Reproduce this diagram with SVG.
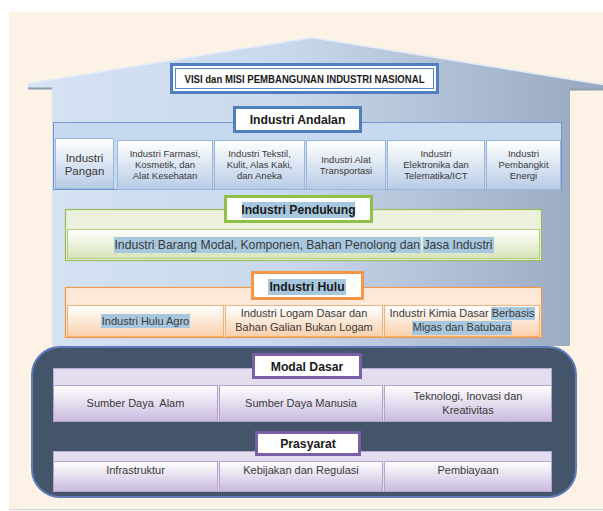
<svg xmlns="http://www.w3.org/2000/svg" width="603" height="511" viewBox="0 0 603 511">
<defs>
<linearGradient id="house" x1="0" y1="0" x2="1" y2="0">
<stop offset="0" stop-color="#d5e3f3"/>
<stop offset="0.45" stop-color="#c9d8ec"/>
<stop offset="1" stop-color="#97a7be"/>
</linearGradient>
<linearGradient id="gBlue" x1="0" y1="0" x2="0" y2="1">
<stop offset="0" stop-color="#ffffff"/>
<stop offset="1" stop-color="#b7cbe6"/>
</linearGradient>
<linearGradient id="gGreen" x1="0" y1="0" x2="0" y2="1">
<stop offset="0" stop-color="#ffffff"/>
<stop offset="1" stop-color="#d6e4b8"/>
</linearGradient>
<linearGradient id="gOrange" x1="0" y1="0" x2="0" y2="1">
<stop offset="0" stop-color="#ffffff"/>
<stop offset="1" stop-color="#fbd0ac"/>
</linearGradient>
<linearGradient id="gPurple" x1="0" y1="0" x2="0" y2="1">
<stop offset="0" stop-color="#ffffff"/>
<stop offset="1" stop-color="#c9bade"/>
</linearGradient>
</defs>
<style>
text{font-family:"Liberation Sans",Arial,sans-serif;fill:#3a3a3a;text-anchor:middle}
.ttl{font-weight:bold;font-size:12.2px;fill:#1a1a1a}
.c9{font-size:9.5px}
.c11{font-size:11px}
.hl{fill:#a7c7df}
.cb{stroke:#9db7da;stroke-width:1;fill:url(#gBlue)}
.cg{stroke:#b5cc86;stroke-width:1;fill:url(#gGreen)}
.co{stroke:#f3b07a;stroke-width:1;fill:url(#gOrange)}
.cp{stroke:#b6a3d0;stroke-width:1;fill:url(#gPurple)}
</style>
<rect x="0" y="0" width="603" height="511" fill="#ffffff"/>
<rect x="9" y="12" width="594" height="496" fill="#fdf2e6"/>
<line x1="9" y1="509.5" x2="603" y2="509.5" stroke="#d6d6d6" stroke-width="1.5"/>

<g id="house-shape">
<path d="M28,83 L312,37 L603,84 L603,90 L570,90 L570,346 L52,346 L52,89 L28,89 Z" fill="url(#house)"/>
<path d="M28,83.5 L312,37.5 L603,84.5" fill="none" stroke="#e6eef8" stroke-width="1.5"/>
<line x1="28" y1="88.5" x2="52" y2="88.5" stroke="#8d9db2" stroke-width="2"/>
<line x1="570" y1="89.5" x2="603" y2="89.5" stroke="#8d9db2" stroke-width="2"/>
</g>

<g id="visi">
<rect x="171.5" y="64.5" width="266" height="28" fill="#ffffff" stroke="#4f7fc0" stroke-width="3"/>
<rect x="175.5" y="68.5" width="258" height="20" fill="#ffffff" stroke="#5a88c6" stroke-width="1"/>
<text x="304.5" y="82.5" style="font-weight:bold;font-size:10.5px;fill:#1a1a1a" textLength="240" lengthAdjust="spacingAndGlyphs">VISI dan MISI PEMBANGUNAN INDUSTRI NASIONAL</text>
</g>

<g id="andalan">
<rect x="53.5" y="122.5" width="508" height="67" fill="#c6d9f1" stroke="#6f98cc" stroke-width="1"/>
<rect x="234.5" y="107.5" width="126" height="24" fill="#ffffff" stroke="#4f7fc0" stroke-width="3"/>
<text class="ttl" x="297.5" y="124">Industri Andalan</text>
<g id="a1"><rect class="cb" x="55.5" y="138.5" width="58" height="50"/>
<text x="84.5" y="161.5" style="font-size:11.5px">Industri</text><text x="84.5" y="174.5" style="font-size:11.5px">Pangan</text></g>
<g id="a2"><rect class="cb" x="117.5" y="140.5" width="95" height="49"/>
<text class="c9" x="165" y="156.5">Industri Farmasi,</text><text class="c9" x="165" y="167.5">Kosmetik, dan</text><text class="c9" x="165" y="178.5">Alat Kesehatan</text></g>
<g id="a3"><rect class="cb" x="214.5" y="140.5" width="90" height="49"/>
<text class="c9" x="259.5" y="156.5">Industri Tekstil,</text><text class="c9" x="259.5" y="167.5">Kulit, Alas Kaki,</text><text class="c9" x="259.5" y="178.5">dan Aneka</text></g>
<g id="a4"><rect class="cb" x="306.5" y="140.5" width="79" height="49"/>
<text class="c9" x="346" y="162.5">Industri Alat</text><text class="c9" x="346" y="173.5">Transportasi</text></g>
<g id="a5"><rect class="cb" x="387.5" y="140.5" width="97" height="49"/>
<text class="c9" x="436" y="156.5">Industri</text><text class="c9" x="436" y="167.5">Elektronika dan</text><text class="c9" x="436" y="178.5">Telematika/ICT</text></g>
<g id="a6"><rect class="cb" x="486.5" y="140.5" width="74" height="49"/>
<text class="c9" x="523.5" y="156.5">Industri</text><text class="c9" x="523.5" y="167.5">Pembangkit</text><text class="c9" x="523.5" y="178.5">Energi</text></g>
</g>

<g id="pendukung">
<rect x="65.5" y="209.5" width="476" height="51" fill="#ebf1dd" stroke="#9bbb59" stroke-width="1.2"/>
<rect class="cg" x="67.5" y="229.5" width="472" height="29"/>
<rect x="225.5" y="196.5" width="146" height="25" fill="#ffffff" stroke="#8fc04a" stroke-width="3"/>
<rect class="hl" x="242" y="202" width="113" height="16"/>
<text class="ttl" x="298.5" y="214">Industri Pendukung</text>
<rect class="hl" x="114" y="237" width="307" height="16"/>
<rect class="hl" x="423" y="237" width="71" height="16"/>
<text x="303.5" y="249" style="font-size:12.2px">Industri Barang Modal, Komponen, Bahan Penolong dan Jasa Industri</text>
</g>

<g id="hulu">
<rect x="65.5" y="287.5" width="476" height="50" fill="#fde9d9" stroke="#f79646" stroke-width="1.2"/>
<rect x="252.5" y="272.5" width="110" height="26" fill="#ffffff" stroke="#f79646" stroke-width="3"/>
<rect class="hl" x="268" y="279" width="78" height="16"/>
<text class="ttl" x="307" y="291">Industri Hulu</text>
<g id="h1"><rect class="co" x="67.5" y="305.5" width="156" height="31"/>
<rect class="hl" x="101" y="314" width="89" height="14"/>
<text class="c11" x="145.5" y="325">Industri Hulu Agro</text></g>
<g id="h2"><rect class="co" x="225.5" y="305.5" width="157" height="31"/>
<text class="c11" x="304" y="317">Industri Logam Dasar dan</text><text class="c11" x="304" y="331">Bahan Galian Bukan Logam</text></g>
<g id="h3"><rect class="co" x="384.5" y="305.5" width="155" height="31"/>
<rect class="hl" x="491" y="307" width="44" height="13"/>
<rect class="hl" x="412" y="321" width="100" height="14"/>
<text class="c11" x="462" y="317">Industri Kimia Dasar Berbasis</text><text class="c11" x="462" y="331">Migas dan Batubara</text></g>
</g>

<g id="foundation">
<rect x="32" y="347" width="544" height="150" rx="28" ry="28" fill="#44546b" stroke="#5c7db5" stroke-width="2"/>
</g>

<g id="modal-dasar">
<rect x="53.5" y="368.5" width="498" height="53" fill="#e4ddef" stroke="#b9a8d3" stroke-width="1"/>
<rect x="253.5" y="354.5" width="107" height="23" fill="#ffffff" stroke="#7b5ea8" stroke-width="3"/>
<text class="ttl" x="307" y="370.5">Modal Dasar</text>
<g id="m1"><rect class="cp" x="53.5" y="385.5" width="164" height="36"/>
<text class="c11" x="135.5" y="407" xml:space="preserve">Sumber Daya  Alam</text></g>
<g id="m2"><rect class="cp" x="219.5" y="385.5" width="163" height="36"/>
<text class="c11" x="301" y="407">Sumber Daya Manusia</text></g>
<g id="m3"><rect class="cp" x="384.5" y="385.5" width="167" height="36"/>
<text class="c11" x="468" y="400">Teknologi, Inovasi dan</text><text class="c11" x="468" y="414">Kreativitas</text></g>
</g>

<g id="prasyarat">
<rect x="53.5" y="451.5" width="498" height="40" fill="#e4ddef" stroke="#b9a8d3" stroke-width="1"/>
<rect x="256.5" y="432.5" width="103" height="22" fill="#ffffff" stroke="#7b5ea8" stroke-width="3"/>
<text class="ttl" x="308" y="448">Prasyarat</text>
<g id="p1"><rect class="cp" x="53.5" y="461.5" width="164" height="30"/>
<text class="c11" x="135.5" y="474">Infrastruktur</text></g>
<g id="p2"><rect class="cp" x="219.5" y="461.5" width="163" height="30"/>
<text class="c11" x="301" y="474">Kebijakan dan Regulasi</text></g>
<g id="p3"><rect class="cp" x="384.5" y="461.5" width="167" height="30"/>
<text class="c11" x="468" y="474">Pembiayaan</text></g>
</g>
</svg>
